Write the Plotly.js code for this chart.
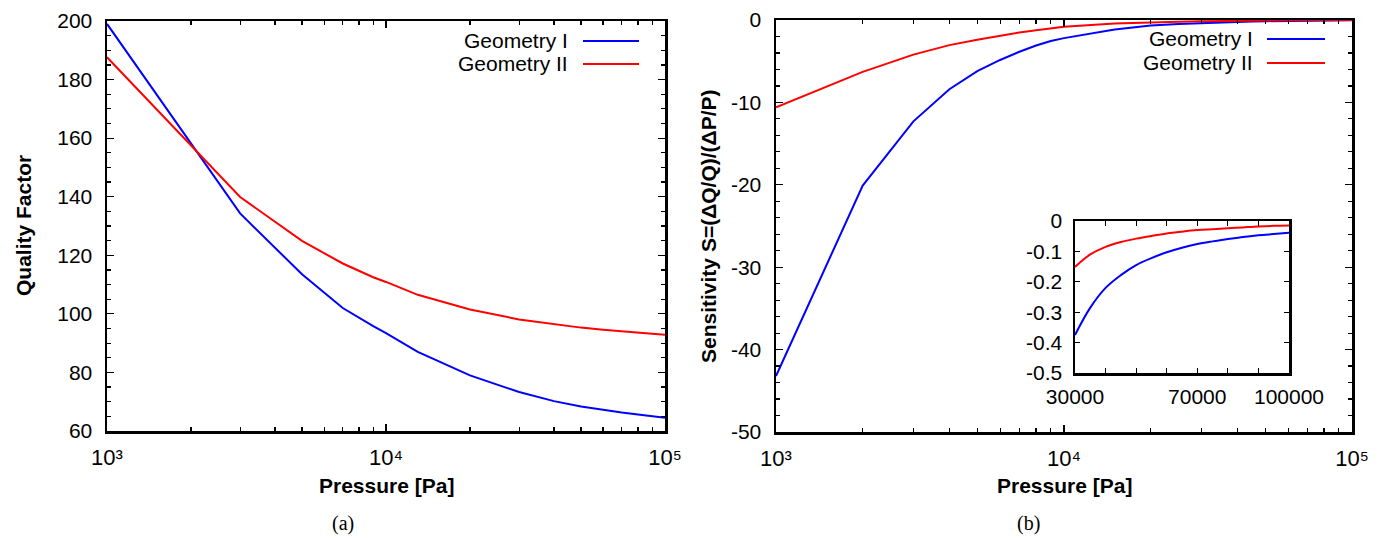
<!DOCTYPE html>
<html>
<head>
<meta charset="utf-8">
<script src="https://cdn.plot.ly/plotly-3.0.1.min.js"></script>
<style>html,body{margin:0;padding:0;background:#fff;}#chart{width:1379px;height:538px;}</style>
</head>
<body>
<div id="chart"></div>
<script>
// ---- data ----
const seriesNames = ["Geometry I", "Geometry II"];
const pressureQ = [1000, 3000, 5000, 7000, 9000, 10000, 13000, 20000, 30000, 40000, 50000, 60000, 70000, 80000, 90000, 100000];
const qualityGeomI = [199.0, 134.3, 113.5, 102.0, 95.8, 93.4, 87.0, 79.0, 73.3, 70.2, 68.4, 67.2, 66.3, 65.6, 65.1, 64.5];
const qualityGeomII = [187.6, 139.9, 124.9, 117.2, 112.5, 110.9, 106.5, 101.5, 98.1, 96.4, 95.3, 94.6, 94.0, 93.6, 93.2, 92.9];

const pressureS = [1000, 2000, 3000, 4000, 5000, 6000, 7000, 8000, 9000, 10000, 15000, 20000, 25000, 30000, 35000, 40000, 45000, 50000, 55000, 60000, 65000, 70000, 75000, 80000, 85000, 90000, 95000, 100000];
const sensGeomI = [-43.2, -20.1, -12.3, -8.4, -6.2, -4.85, -3.85, -3.1, -2.55, -2.2, -1.15, -0.67, -0.5, -0.375, -0.285, -0.22, -0.178, -0.145, -0.122, -0.103, -0.088, -0.076, -0.067, -0.059, -0.053, -0.047, -0.043, -0.039];
const sensGeomII = [-10.6, -6.3, -4.2, -3.05, -2.4, -1.9, -1.52, -1.23, -1.0, -0.83, -0.42, -0.27, -0.2, -0.151, -0.11, -0.085, -0.069, -0.058, -0.049, -0.041, -0.035, -0.030, -0.027, -0.024, -0.021, -0.018, -0.016, -0.015];

const logTickVals = [1000, 10000, 100000];
const logTickText = ["10³", "10⁴", "10⁵"];
const qTickVals = [60, 80, 100, 120, 140, 160, 180, 200];
const sTickVals = [-50, -40, -30, -20, -10, 0];
const sTickText = ["-50", "-40", "-30", "-20", "-10", "0"];
const insetYTickVals = [-0.5, -0.4, -0.3, -0.2, -0.1, 0];
const insetYTickText = ["-0.5", "-0.4", "-0.3", "-0.2", "-0.1", "0"];
const insetXTickVals = [30000, 70000, 100000];
const insetXTickText = ["30000", "70000", "100000"];
const insetXMinor = [40000, 50000, 60000, 80000, 90000];
const insetStart = 30000;
const colors = ["#0000ff", "#ff0000"];

// minor ticks for log axes (2..9 in each decade)
const logMinor = [];
[1000, 10000].forEach(d => { for (let k = 2; k <= 9; k++) logMinor.push(d * k); });

const insetIdx = pressureS.map((p, i) => i).filter(i => pressureS[i] >= insetStart);
const insetP = insetIdx.map(i => pressureS[i]);

const W = 1379, H = 538;
const px = v => v / W, py = v => 1 - v / H;

const traces = [
  {x: pressureQ, y: qualityGeomI, xaxis: "x", yaxis: "y", mode: "lines", line: {color: colors[0], width: 2}, name: seriesNames[0]},
  {x: pressureQ, y: qualityGeomII, xaxis: "x", yaxis: "y", mode: "lines", line: {color: colors[1], width: 2}, name: seriesNames[1]},
  {x: pressureS, y: sensGeomI, xaxis: "x2", yaxis: "y2", mode: "lines", line: {color: colors[0], width: 2}, name: seriesNames[0]},
  {x: pressureS, y: sensGeomII, xaxis: "x2", yaxis: "y2", mode: "lines", line: {color: colors[1], width: 2}, name: seriesNames[1]},
  {x: insetP, y: insetIdx.map(i => sensGeomI[i]), xaxis: "x3", yaxis: "y3", mode: "lines", line: {color: colors[0], width: 2, shape: "spline"}, name: seriesNames[0]},
  {x: insetP, y: insetIdx.map(i => sensGeomII[i]), xaxis: "x3", yaxis: "y3", mode: "lines", line: {color: colors[1], width: 2, shape: "spline"}, name: seriesNames[1]}
];

const FAM = "Liberation Sans, Arial, sans-serif";
const tickFont = {family: FAM, size: 21, color: "#000"};
const minorStyle = {ticks: "inside", ticklen: 4, tickwidth: 1.2, tickcolor: "#000", showgrid: false};
const axBase = {
  showline: true, linecolor: "#000", linewidth: 2.5, mirror: "ticks",
  ticks: "inside", ticklen: 7, tickwidth: 1.2, tickcolor: "#000",
  showgrid: false, zeroline: false, tickfont: tickFont, fixedrange: true
};
function logX(domain, anchor) {
  return Object.assign({}, axBase, {
    type: "log", domain: domain, anchor: anchor,
    range: [3, 5], tickmode: "array", tickvals: logTickVals, ticktext: logTickText,
    ticklabelstandoff: 5,
    tickfont: {family: FAM, size: 22, color: "#000"},
    minor: Object.assign({tickmode: "array", tickvals: logMinor}, minorStyle)
  });
}

const layout = {
  width: W, height: H,
  margin: {l: 0, r: 0, t: 0, b: 0},
  paper_bgcolor: "#fff", plot_bgcolor: "#fff",
  showlegend: false,
  xaxis: logX([px(107), px(665)], "y"),
  yaxis: Object.assign({}, axBase, {
    domain: [py(431), py(21)], anchor: "x", range: [60, 200],
    tickmode: "array", tickvals: qTickVals, ticklabelstandoff: 8,
    minor: Object.assign({dtick: 5}, minorStyle)
  }),
  xaxis2: logX([px(776), px(1352)], "y2"),
  yaxis2: Object.assign({}, axBase, {
    domain: [py(432), py(20)], anchor: "x2", range: [-50, 0],
    tickmode: "array", tickvals: sTickVals, ticktext: sTickText, ticklabelstandoff: 8,
    minor: Object.assign({dtick: 2}, minorStyle)
  }),
  xaxis3: Object.assign({}, axBase, {
    domain: [px(1075), px(1289)], anchor: "y3", range: [30000, 100000],
    tickmode: "array", tickvals: insetXTickVals, ticktext: insetXTickText,
    ticklen: 5, ticklabelstandoff: 3,
    minor: Object.assign({tickmode: "array", tickvals: insetXMinor}, minorStyle, {ticklen: 5})
  }),
  yaxis3: Object.assign({}, axBase, {
    domain: [py(373), py(221)], anchor: "x3", range: [-0.5, 0],
    tickmode: "array", tickvals: insetYTickVals, ticktext: insetYTickText,
    ticklen: 5, ticklabelstandoff: 6
  }),
  annotations: [],
  shapes: []
};

const titleFont = {family: FAM, size: 21, color: "#000", weight: "bold"};
const legFont = {family: FAM, size: 21, color: "#000"};
const serifFont = {family: "Liberation Serif, Times New Roman, serif", size: 20, color: "#000"};

function ann(text, x, y, opts) {
  layout.annotations.push(Object.assign({text: text, x: px(x), y: py(y), xref: "paper", yref: "paper", showarrow: false, xanchor: "center", yanchor: "middle"}, opts || {}));
}
ann("Pressure [Pa]", 386, 485, {font: titleFont});
ann("Pressure [Pa]", 1064, 485, {font: titleFont});
ann("Quality Factor", 23, 226, {font: titleFont, textangle: -90});
ann("Sensitivity S=(ΔQ/Q)/(ΔP/P)", 708, 226, {font: titleFont, textangle: -90});
ann("(a)", 343, 523, {font: serifFont});
ann("(b)", 1028, 523, {font: serifFont});

// legends (text right-aligned, sample line on the right, as in the reference)
function legend(textRight, lineX0, lineX1, ys) {
  seriesNames.forEach((n, i) => {
    ann(n, textRight, ys[i], {font: legFont, xanchor: "right"});
    layout.shapes.push({type: "line", xref: "paper", yref: "paper", x0: px(lineX0), x1: px(lineX1), y0: py(ys[i]), y1: py(ys[i]), line: {color: colors[i], width: 2}});
  });
}
legend(570, 583, 639, [41, 64]);
legend(1255, 1267, 1325, [39, 63]);

Plotly.newPlot("chart", traces, layout, {displayModeBar: false, staticPlot: true});
</script>
</body>
</html>
